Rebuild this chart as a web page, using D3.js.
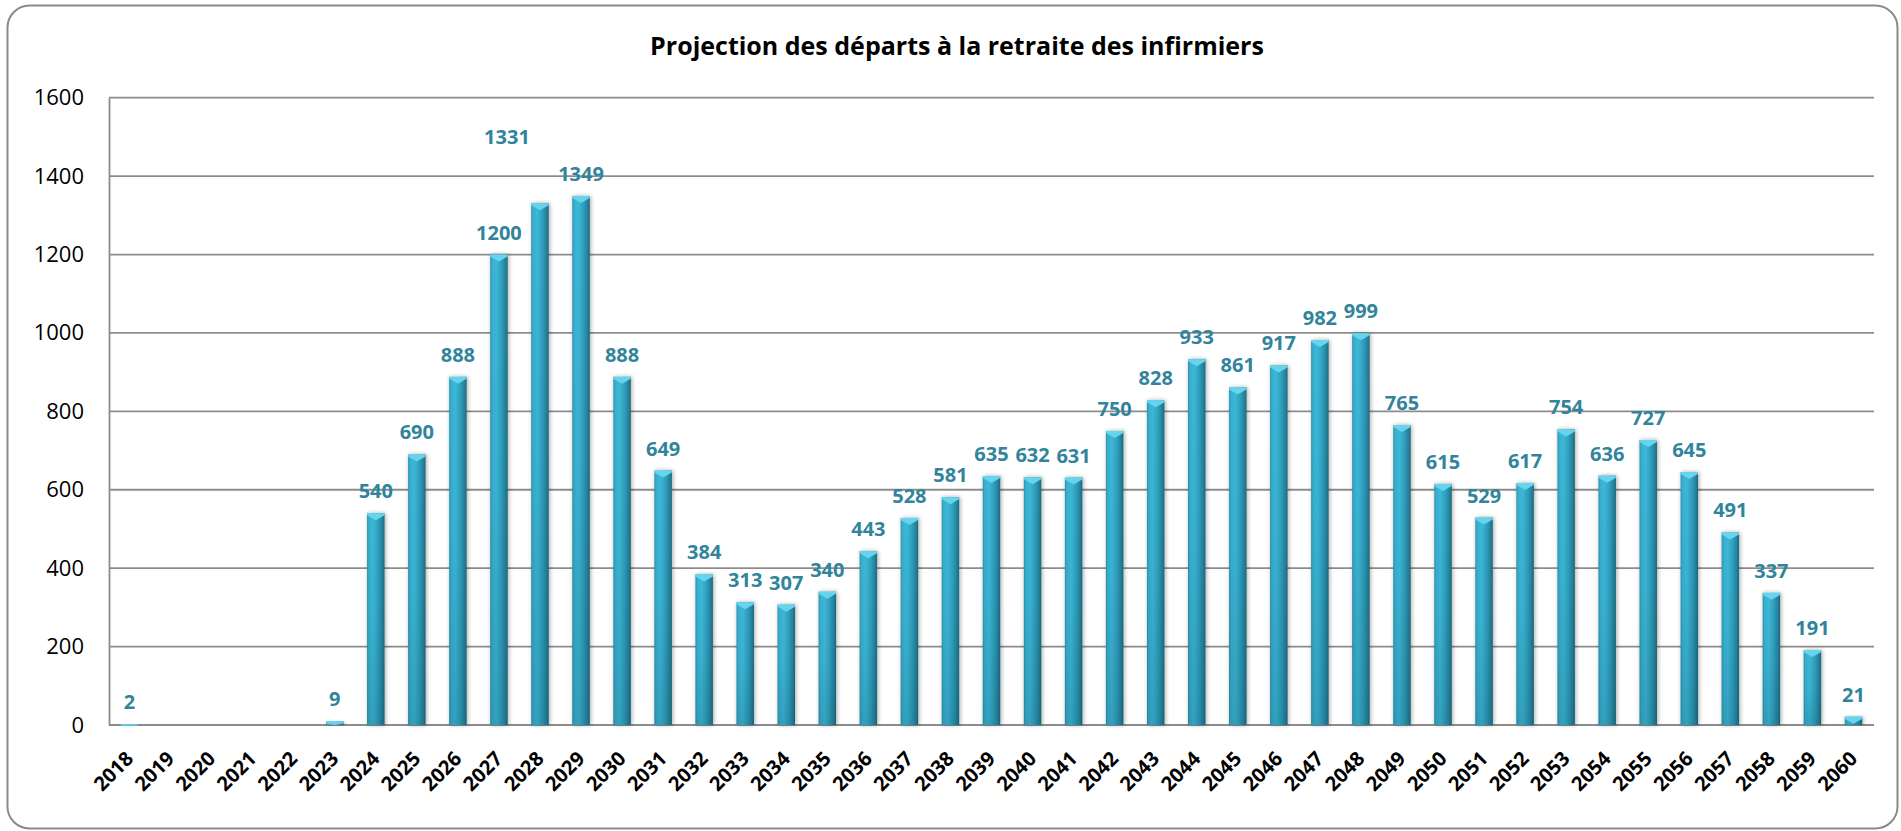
<!DOCTYPE html>
<html lang="fr">
<head>
<meta charset="utf-8">
<title>Projection des départs à la retraite des infirmiers</title>
<script src="https://cdn.jsdelivr.net/npm/d3@7"></script>
<style>
  html, body { margin: 0; padding: 0; background: #ffffff; }
  svg { display: block; }
  .title { font-family: "Open Sans", "Liberation Sans", sans-serif; font-weight: bold; }
  .ylab { font-family: "Open Sans", "Liberation Sans", sans-serif; }
  .xlab, .vlab { font-family: "Open Sans", "Liberation Sans", sans-serif; font-weight: bold; }
</style>
</head>
<body>
<svg id="chart" width="1901" height="831"></svg>
<script>
// Retirement projections for nurses, one bar per year
const years = d3.range(2018, 2061).map(String);
const departures = [
  2, null, null, null, null, 9, 540, 690, 888, 1200,
  1331, 1349, 888, 649, 384, 313, 307, 340, 443, 528,
  581, 635, 632, 631, 750, 828, 933, 861, 917, 982,
  999, 765, 615, 529, 617, 754, 636, 727, 645, 491,
  337, 191, 21
];
const yTicks = [0, 200, 400, 600, 800, 1000, 1200, 1400, 1600];
const titleText = "Projection des départs à la retraite des infirmiers";

// label of 2028 sits apart from its bar (moved by hand in the source chart)
const labelNudge = { "2028": [-33, -44] };

const plot = { left: 109, right: 1874, top: 97.7, bottom: 725 };

const svg = d3.select("#chart");

// rounded chart frame
svg.append("rect")
  .attr("x", 7.5).attr("y", 5.5)
  .attr("width", 1890).attr("height", 823)
  .attr("rx", 22).attr("ry", 22)
  .attr("fill", "#ffffff")
  .attr("stroke", "#8a8a8a").attr("stroke-width", 2);

const defs = svg.append("defs");
const grad = defs.append("linearGradient").attr("id", "barFill")
  .attr("x1", "0%").attr("x2", "100%").attr("y1", "0%").attr("y2", "0%");
[
  [0, "#2b8ca7"], [0.1, "#38afcf"], [0.35, "#3cb8d8"],
  [0.65, "#2f9ebc"], [0.88, "#25819b"], [1, "#1b6678"]
].forEach(([o, c]) => grad.append("stop").attr("offset", o).attr("stop-color", c));

// slight darkening toward the base of each bar
const shade = defs.append("linearGradient").attr("id", "barShade")
  .attr("x1", "0%").attr("x2", "0%").attr("y1", "0%").attr("y2", "100%");
[[0, 0], [0.5, 0.05], [1, 0.18]].forEach(([o, a]) =>
  shade.append("stop").attr("offset", o).attr("stop-color", "#063848").attr("stop-opacity", a));

const shadow = defs.append("filter").attr("id", "barShadow")
  .attr("x", "-50%").attr("y", "-10%").attr("width", "200%").attr("height", "120%");
shadow.append("feDropShadow")
  .attr("dx", 1).attr("dy", 0).attr("stdDeviation", 2)
  .attr("flood-color", "#000").attr("flood-opacity", 0.35);

const x = d3.scaleBand().domain(years).range([plot.left, plot.right])
  .paddingInner(0.575).paddingOuter(0.2875);
const y = d3.scaleLinear().domain([0, 1600]).range([plot.bottom, plot.top]);

// title
svg.append("text").attr("class", "title")
  .attr("x", 957).attr("y", 55)
  .attr("text-anchor", "middle")
  .attr("font-size", 25)
  .attr("fill", "#000")
  .text(titleText);

// horizontal gridlines
svg.append("g").selectAll("line").data(yTicks).join("line")
  .attr("x1", plot.left).attr("x2", plot.right)
  .attr("y1", d => y(d)).attr("y2", d => y(d))
  .attr("stroke", "#8c8c8c").attr("stroke-width", 1.8);

// y axis
const yAxis = svg.append("g")
  .attr("transform", `translate(${plot.left},0)`)
  .call(d3.axisLeft(y).tickValues(yTicks).tickSize(0).tickPadding(25).tickFormat(d3.format("d")));
yAxis.select(".domain").attr("stroke", "#8c8c8c").attr("stroke-width", 1.8);
yAxis.selectAll("text").attr("class", "ylab")
  .attr("font-size", 22).attr("fill", "#000");

// bars
const data = years.map((yr, i) => ({ year: yr, value: departures[i] }))
  .filter(d => d.value !== null);

const bars = svg.append("g").selectAll("g").data(data).join("g");
bars.append("rect")
  .attr("x", d => x(d.year))
  .attr("y", d => y(d.value))
  .attr("width", x.bandwidth())
  .attr("height", d => Math.max(1, y(0) - y(d.value)))
  .attr("fill", "url(#barFill)")
  .attr("filter", "url(#barShadow)");
bars.append("rect")
  .attr("x", d => x(d.year))
  .attr("y", d => y(d.value))
  .attr("width", x.bandwidth())
  .attr("height", d => Math.max(1, y(0) - y(d.value)))
  .attr("fill", "url(#barShade)");

// bevelled light cap on top of each bar
bars.append("path")
  .attr("d", d => {
    const x0 = x(d.year), w = x.bandwidth(), t = y(d.value);
    const h = Math.min(7, Math.max(1.5, y(0) - t));
    const e = Math.min(2, h);
    return `M${x0},${t}L${x0 + w},${t}L${x0 + w},${t + e}L${x0 + w / 2},${t + h}L${x0},${t + e}Z`;
  })
  .attr("fill", "#66d4ec");

// value labels
svg.append("g").selectAll("text").data(data).join("text")
  .attr("class", "vlab")
  .attr("x", d => x(d.year) + x.bandwidth() / 2 + (labelNudge[d.year] ? labelNudge[d.year][0] : 0))
  .attr("y", d => y(d.value) - 15 + (labelNudge[d.year] ? labelNudge[d.year][1] : 0))
  .attr("text-anchor", "middle")
  .attr("font-size", 20)
  .attr("fill", "#31849b")
  .text(d => d.value);

// year labels, turned 45 degrees
const xLabels = svg.append("g").selectAll("g").data(years).join("g")
  .attr("transform", d => `translate(${x(d) + x.bandwidth() / 2 + 5},760)`);
xLabels.append("text")
  .attr("class", "xlab")
  .attr("transform", "rotate(-45)")
  .attr("text-anchor", "end")
  .attr("font-size", 20)
  .attr("fill", "#000")
  .text(d => d);
</script>
</body>
</html>
